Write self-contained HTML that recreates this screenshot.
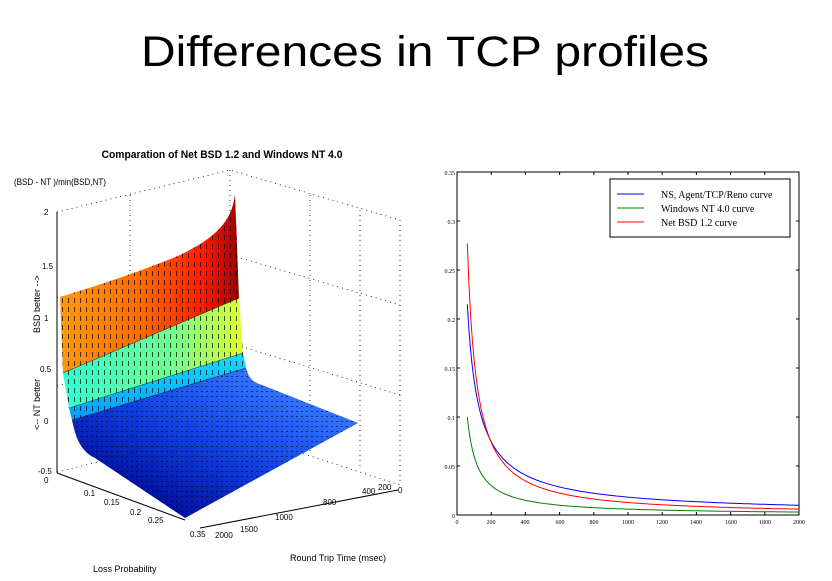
<!DOCTYPE html>
<html><head><meta charset="utf-8"><style>
html,body{margin:0;padding:0;background:#fff;}
svg{display:block;font-family:"Liberation Sans",sans-serif;}
</style></head><body>
<svg width="832" height="581" viewBox="0 0 832 581" xmlns="http://www.w3.org/2000/svg">
<defs>
<linearGradient id="gTop" x1="60" y1="0" x2="240" y2="0" gradientUnits="userSpaceOnUse">
<stop offset="0" stop-color="#ff9a10"/><stop offset="0.45" stop-color="#ff6a00"/><stop offset="0.8" stop-color="#ff1a00"/><stop offset="1" stop-color="#9a0000"/></linearGradient>
<linearGradient id="gMid" x1="63" y1="0" x2="243" y2="0" gradientUnits="userSpaceOnUse">
<stop offset="0" stop-color="#30ffd0"/><stop offset="0.6" stop-color="#70ff90"/><stop offset="1" stop-color="#e0ff30"/></linearGradient>
<linearGradient id="gLow" x1="0" y1="360" x2="0" y2="430" gradientUnits="userSpaceOnUse">
<stop offset="0" stop-color="#10d8ff"/><stop offset="1" stop-color="#0090ff"/></linearGradient>
<linearGradient id="gFloor" x1="250" y1="380" x2="185" y2="518" gradientUnits="userSpaceOnUse">
<stop offset="0" stop-color="#3070ff"/><stop offset="0.5" stop-color="#1040e0"/><stop offset="1" stop-color="#0010a0"/></linearGradient>
<pattern id="dash" width="6" height="9" patternUnits="userSpaceOnUse">
<rect x="2" y="1" width="1" height="5" fill="#000" opacity="0.7"/></pattern>
<pattern id="dots" width="5" height="5" patternUnits="userSpaceOnUse">
<rect x="1" y="1" width="2" height="1" fill="#000" opacity="0.55"/></pattern>
</defs>
<text x="425" y="66" font-size="43" text-anchor="middle" textLength="568" lengthAdjust="spacingAndGlyphs">Differences in TCP profiles</text>

<!-- 3D plot -->
<text x="222" y="158" font-size="11" font-weight="bold" text-anchor="middle" textLength="241" lengthAdjust="spacingAndGlyphs">Comparation of Net BSD 1.2 and Windows NT 4.0</text>
<text x="14" y="185" font-size="9" textLength="92" lengthAdjust="spacingAndGlyphs">(BSD - NT )/min(BSD,NT)</text>
<g stroke="#000" stroke-width="0.8" stroke-dasharray="1,4" fill="none">
<path d="M57,212 L230,170 L400,220 M57,472 L230,430 L400,485 M230,170 L230,430 M130,195 L130,455 M310,195 L310,455 M360,210 L360,470 M400,220 L400,485 M57,298 L230,255 L400,305 M57,386 L230,343 L400,395 M57,298 L57,212"/>
</g>
<line x1="57" y1="212" x2="57" y2="473" stroke="#000" stroke-width="1"/>
<line x1="57" y1="473" x2="185" y2="520" stroke="#000" stroke-width="1"/>
<line x1="200" y1="528" x2="398" y2="490" stroke="#000" stroke-width="1"/>
<g font-size="8" fill="#000">
<text x="44" y="215">2</text><text x="42" y="269">1.5</text><text x="44" y="321">1</text>
<text x="40" y="372">0.5</text><text x="44" y="424">0</text><text x="38" y="474">-0.5</text>
<text x="44" y="483">0</text><text x="84" y="496">0.1</text><text x="104" y="505">0.15</text>
<text x="130" y="515">0.2</text><text x="148" y="523">0.25</text><text x="190" y="537">0.35</text>
<text x="215" y="538">2000</text><text x="240" y="532">1500</text><text x="275" y="520">1000</text>
<text x="323" y="505">800</text><text x="362" y="494">400</text><text x="378" y="490">200</text><text x="398" y="493">0</text>
</g>
<text transform="translate(40,430) rotate(-90)" font-size="9">&lt;-- NT better</text>
<text transform="translate(40,333) rotate(-90)" font-size="9">BSD better --&gt;</text>
<text x="290" y="561" font-size="9">Round Trip Time (msec)</text>
<text x="93" y="572" font-size="9">Loss Probability</text>

<!-- surface -->
<path d="M72,420 C76,440 82,452 95,458 L185,518 L358,423 L262,385 C252,382 249,378 246,368 Z" fill="url(#gFloor)"/>
<path d="M72,420 C76,440 82,452 95,458 L185,518 L358,423 L262,385 C252,382 249,378 246,368 Z" fill="url(#dots)"/>
<path d="M69,408 L243,353 L246,368 L72,420 Z" fill="url(#gLow)"/>
<path d="M69,408 L243,353 L246,368 L72,420 Z" fill="url(#dash)"/>
<path d="M63,373 L239,298 L243,353 L69,408 Z" fill="url(#gMid)"/>
<path d="M63,373 L239,298 L243,353 L69,408 Z" fill="url(#dash)"/>
<path d="M60,297 C100,285 150,268 180,255 C215,238 232,222 235,194 L239,298 L63,373 Z" fill="url(#gTop)"/>
<path d="M60,297 C100,285 150,268 180,255 C215,238 232,222 235,194 L239,298 L63,373 Z" fill="url(#dash)"/>
<g stroke="#000" stroke-width="0.6" fill="none" opacity="0.7">
<path d="M63,373 L239,298 M69,408 L243,353 M72,420 L246,368"/>
</g>

<!-- right chart -->
<rect x="457" y="172" width="342" height="343" fill="none" stroke="#000" stroke-width="1"/>
<g font-size="6" fill="#000" font-family="Liberation Serif,serif">
<text x="455" y="175" text-anchor="end">0.35</text>
<text x="455" y="224" text-anchor="end">0.3</text>
<text x="455" y="273" text-anchor="end">0.25</text>
<text x="455" y="322" text-anchor="end">0.2</text>
<text x="455" y="371" text-anchor="end">0.15</text>
<text x="455" y="420" text-anchor="end">0.1</text>
<text x="455" y="469" text-anchor="end">0.05</text>
<text x="455" y="518" text-anchor="end">0</text>
<text x="457" y="524" text-anchor="middle">0</text>
<text x="491" y="524" text-anchor="middle">200</text>
<text x="525" y="524" text-anchor="middle">400</text>
<text x="560" y="524" text-anchor="middle">600</text>
<text x="594" y="524" text-anchor="middle">800</text>
<text x="628" y="524" text-anchor="middle">1000</text>
<text x="662" y="524" text-anchor="middle">1200</text>
<text x="696" y="524" text-anchor="middle">1400</text>
<text x="731" y="524" text-anchor="middle">1600</text>
<text x="765" y="524" text-anchor="middle">1800</text>
<text x="799" y="524" text-anchor="middle">2000</text>
</g>
<g stroke="#000" stroke-width="1" id="ticks"></g>
<g id="curves" fill="none" stroke-width="1"></g>
<rect x="610" y="179" width="180" height="58" fill="#fff" stroke="#000" stroke-width="1"/>
<line x1="617" y1="194" x2="644" y2="194" stroke="#0000ff"/>
<line x1="617" y1="208" x2="644" y2="208" stroke="#008000"/>
<line x1="617" y1="222" x2="644" y2="222" stroke="#ff0000"/>
<g font-size="10" font-family="Liberation Serif,serif">
<text x="661" y="198">NS, Agent/TCP/Reno curve</text>
<text x="661" y="212">Windows NT 4.0 curve</text>
<text x="661" y="226">Net BSD 1.2 curve</text>
</g>
<script>
(function(){
var ns="http://www.w3.org/2000/svg";
function X(v){return 457+v/2000*342;}function Y(v){return 515-v/0.35*343;}
var t=document.getElementById("ticks");var d="";
for(var i=0;i<=10;i++){var x=X(i*200);d+="M"+x+",515 v-3 M"+x+",172 v3 ";}
for(var j=0;j<=7;j++){var y=Y(j*0.05);d+="M457,"+y+" h3 M799,"+y+" h-3 ";}
var p=document.createElementNS(ns,"path");p.setAttribute("d",d);t.appendChild(p);
var c=document.getElementById("curves");
[["#0000ff",0.215,0.877],["#008000",0.1,1.0],["#ff0000",0.277,1.094]].forEach(function(s){
var pts=[];for(var x=60;x<=2000;x+=10){pts.push(X(x).toFixed(1)+","+Y(s[1]*Math.pow(x/60,-s[2])).toFixed(1));}
var pl=document.createElementNS(ns,"polyline");pl.setAttribute("points",pts.join(" "));pl.setAttribute("stroke",s[0]);c.appendChild(pl);});
})();
</script>
</svg>
</body></html>
